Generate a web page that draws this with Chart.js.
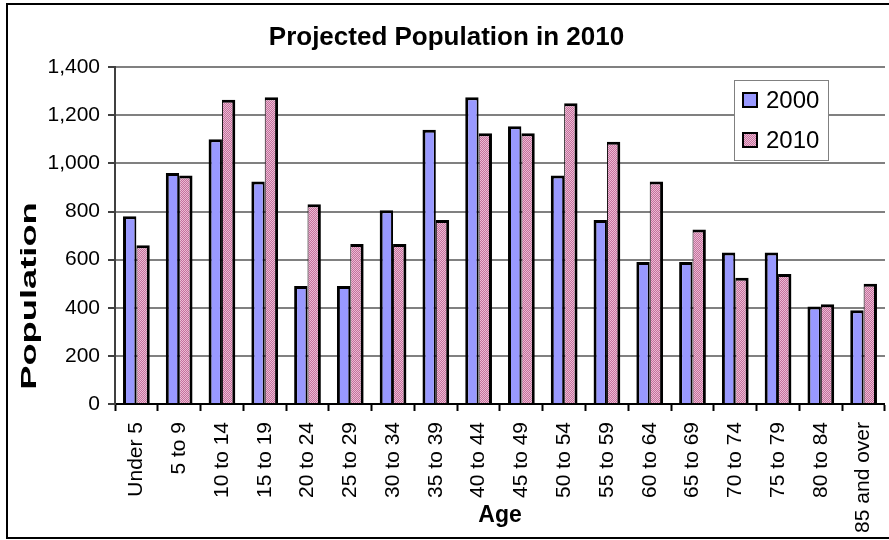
<!DOCTYPE html>
<html>
<head>
<meta charset="utf-8">
<title>Projected Population in 2010</title>
<script src="https://cdn.jsdelivr.net/npm/chart.js@4.4.1/dist/chart.umd.min.js"></script>
<style>
  html, body { margin: 0; padding: 0; background: #fff; overflow: hidden; }
  #wrap { position: relative; width: 889px; height: 540px; overflow: hidden; }
  #frame {
    position: absolute; left: 6px; top: 3px; width: 920px; height: 532px;
    border: 2px solid #000; pointer-events: none;
  }
  #popChart { position: absolute; left: 0; top: 0; }
</style>
</head>
<body>
<div id="wrap">
  <canvas id="popChart" width="900" height="540"></canvas>
  <div id="frame"></div>
</div>
<script>
const ageGroups = ['Under 5', '5 to 9', '10 to 14', '15 to 19', '20 to 24', '25 to 29',
  '30 to 34', '35 to 39', '40 to 44', '45 to 49', '50 to 54', '55 to 59',
  '60 to 64', '65 to 69', '70 to 74', '75 to 79', '80 to 84', '85 and over'];
const pop2000 = [780, 960, 1100, 925, 490, 490, 805, 1140, 1275, 1155, 950, 765, 590, 590, 630, 630, 405, 390];
const pop2010 = [660, 950, 1265, 1275, 830, 665, 665, 765, 1125, 1125, 1250, 1090, 925, 725, 525, 540, 415, 500];
const yTicks = [0, 200, 400, 600, 800, 1000, 1200, 1400];

const FONT = '"Liberation Sans", Arial, sans-serif';

// dotted pink fill for the 2010 bars
function dotPattern() {
  const c = document.createElement('canvas');
  c.width = 2;
  c.height = 2;
  const g = c.getContext('2d');
  g.fillStyle = '#c4709c';
  g.fillRect(0, 0, 2, 2);
  g.fillStyle = '#ebbad3';
  g.fillRect(0, 0, 1, 1);
  g.fillRect(1, 1, 1, 1);
  return g.createPattern(c, 'repeat');
}

// boxed legend sitting inside the plot, top right
const boxLegend = {
  id: 'boxLegend',
  afterDraw(chart, args, opts) {
    const ctx = chart.ctx;
    ctx.save();
    ctx.fillStyle = '#fff';
    ctx.fillRect(opts.x, opts.y, opts.w, opts.h);
    ctx.strokeStyle = '#808080';
    ctx.lineWidth = 1;
    ctx.strokeRect(opts.x + 0.5, opts.y + 0.5, opts.w, opts.h);
    ctx.font = '24px ' + FONT;
    ctx.textBaseline = 'middle';
    chart.data.datasets.forEach((ds, i) => {
      const cy = opts.y + 20 + i * 40;
      ctx.fillStyle = ds.backgroundColor;
      ctx.fillRect(opts.x + 9, cy - 7, 14, 14);
      ctx.strokeStyle = '#000';
      ctx.lineWidth = 2;
      ctx.strokeRect(opts.x + 9, cy - 7, 14, 14);
      ctx.fillStyle = '#000';
      ctx.fillText(ds.label, opts.x + 32, cy + 1);
    });
    ctx.restore();
  }
};

// vertical axis title, drawn stretched along its length
const sideTitle = {
  id: 'sideTitle',
  afterDraw(chart, args, opts) {
    const ctx = chart.ctx;
    ctx.save();
    ctx.translate(opts.x, opts.y);
    ctx.rotate(-Math.PI / 2);
    ctx.scale(opts.stretch, 1);
    ctx.font = 'bold 22px ' + FONT;
    ctx.fillStyle = '#000';
    ctx.textAlign = 'center';
    ctx.textBaseline = 'middle';
    ctx.fillText(opts.text, 0, 0);
    ctx.restore();
  }
};

const ctx = document.getElementById('popChart').getContext('2d');

new Chart(ctx, {
  type: 'bar',
  data: {
    labels: ageGroups,
    datasets: [{
      label: '2000',
      data: pop2000,
      backgroundColor: '#9999ff',
      borderColor: '#000',
      borderWidth: { top: 3, left: 3, right: 2, bottom: 0 }
    }, {
      label: '2010',
      data: pop2010,
      backgroundColor: dotPattern(),
      borderColor: '#000',
      borderWidth: { top: 3, left: 1, right: 3, bottom: 0 }
    }]
  },
  options: {
    responsive: false,
    animation: false,
    events: [],
    layout: { padding: { left: 0, right: 7, top: 0, bottom: 0 } },
    datasets: {
      bar: { categoryPercentage: 0.625, barPercentage: 1 }
    },
    plugins: {
      legend: { display: false },
      tooltip: { enabled: false },
      title: {
        display: true,
        text: 'Projected Population in 2010',
        color: '#000',
        font: { family: FONT, size: 26, weight: 'bold', lineHeight: 1.2 },
        padding: { top: 22, bottom: 14 }
      },
      boxLegend: { x: 734, y: 80, w: 94, h: 80 },
      sideTitle: { text: 'Population', x: 30, y: 296, stretch: 1.65 }
    },
    scales: {
      x: {
        grid: {
          drawOnChartArea: false,
          drawTicks: true,
          tickLength: 7,
          tickColor: '#000',
          tickWidth: 2
        },
        border: { color: '#000', width: 2 },
        ticks: {
          autoSkip: false,
          minRotation: 90,
          maxRotation: 90,
          padding: 11,
          color: '#000',
          font: { family: FONT, size: 21 }
        },
        title: {
          display: true,
          text: 'Age',
          color: '#000',
          font: { family: FONT, size: 23, weight: 'bold', lineHeight: 1.2 },
          padding: { top: 0, bottom: 11 }
        },
        afterFit: scale => { scale.height = 136; }
      },
      y: {
        min: yTicks[0],
        max: yTicks[yTicks.length - 1],
        afterBuildTicks: scale => {
          scale.ticks = yTicks.map(v => ({ value: v }));
        },
        grid: {
          color: '#808080',
          lineWidth: 2,
          tickLength: 7,
          tickColor: '#404040',
          tickWidth: 2
        },
        border: { color: '#404040', width: 2 },
        ticks: {
          padding: 8,
          color: '#000',
          font: { family: FONT, size: 21 },
          callback: value => value.toLocaleString('en-US')
        },
        afterFit: scale => { scale.width = 115; }
      }
    }
  },
  plugins: [boxLegend, sideTitle]
});
</script>
</body>
</html>
